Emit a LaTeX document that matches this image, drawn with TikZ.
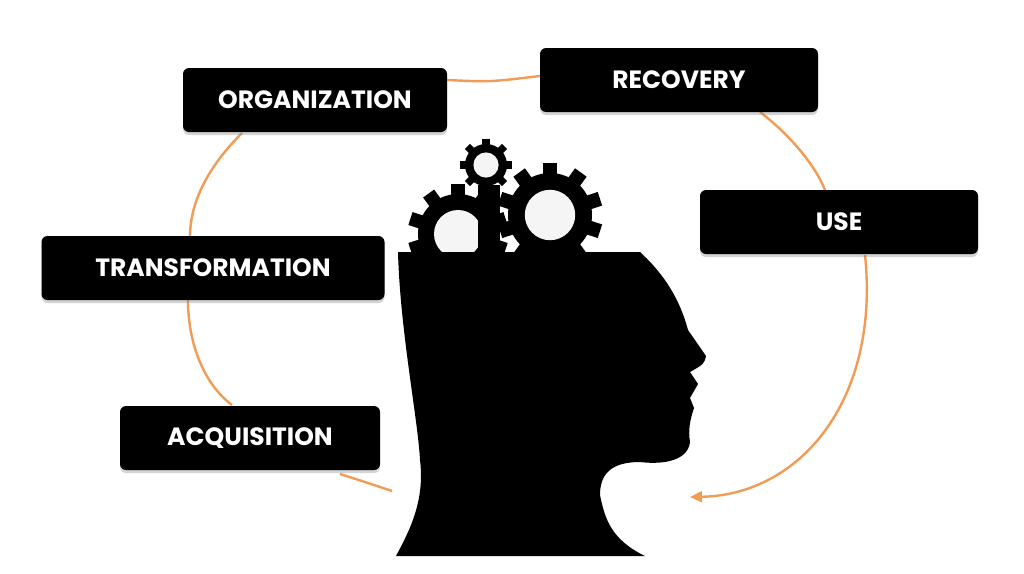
\documentclass[tikz,border=0pt]{standalone}
\usepackage{fontspec}
\setmainfont{Poppins}
\usetikzlibrary{shadows,arrows.meta}
\definecolor{linkorange}{HTML}{F29B55}
\tikzset{
  stage/.style={fill=black, rounded corners=6pt, text=white, font=\fontsize{25}{28}\selectfont\bfseries,
    minimum height=64, inner xsep=0pt,
    drop shadow={shadow xshift=0pt, shadow yshift=-3pt, opacity=0.35, fill=gray}},
  link/.style={draw=linkorange, line width=2.4pt},
}
\newcommand{\gearat}[4]{% centre x, y, radius, teeth
  \foreach \k in {1,...,#4}
    \fill[black, rotate around={360/#4*\k:(#1,#2)}] (#1-0.17*#3,#2) rectangle (#1+0.17*#3,#2-1.25*#3);
  \fill[black] (#1,#2) circle (#3);
  \fill[white!92!gray] (#1,#2) circle (0.6*#3);
}
\begin{document}
\begin{tikzpicture}[x=1pt,y=-1pt]
  \useasboundingbox (0,0) rectangle (1024,573);

  % cycle of links
  \coordinate (a1) at (447,80);  \coordinate (a2) at (540,76);
  \coordinate (b1) at (760,112); \coordinate (b2) at (825,190);
  \coordinate (c1) at (865,255); \coordinate (c2) at (690,497);
  \coordinate (d1) at (242,133); \coordinate (d2) at (190,237);
  \coordinate (e1) at (188,300); \coordinate (e2) at (232,405);
  \coordinate (f1) at (340,474); \coordinate (f2) at (392,491);
  \draw[link] (a1) .. controls (490,82) .. (a2);
  \draw[link] (b1) .. controls (790,135) and (815,165) .. (b2);
  \draw[link, -{Triangle[length=12pt,width=11pt]}] (c1) .. controls (880,400) and (800,495) .. (c2);
  \draw[link] (d1) .. controls (210,165) and (190,200) .. (d2);
  \draw[link] (e1) .. controls (188,345) and (205,385) .. (e2);
  \draw[link] (f1) .. controls (365,482) .. (f2);

  % gears
  \gearat{550}{215}{42}{10}
  \gearat{458}{234}{40}{10}
  \gearat{486}{165}{21}{8}
  \fill[black] (478,185) rectangle (500,250);

  % head
  \fill[black] (398,252) -- (640,252) .. controls (665,275) and (680,300) .. (688,330)
    -- (706,356) .. controls (704,364) .. (690,372) -- (698,384) -- (690,398) -- (694,408)
    .. controls (690,420) and (688,430) .. (690,442) .. controls (688,460) and (665,465) .. (640,462)
    .. controls (610,462) and (600,475) .. (600,495) .. controls (605,520) and (612,540) .. (645,556)
    -- (396,556) .. controls (410,530) and (425,500) .. (420,460)
    .. controls (418,420) and (400,330) .. (398,252) -- cycle;

  % stages
  \node[stage, minimum width=264] (organization) at (315,100) {ORGANIZATION};
  \node[stage, minimum width=278] (recovery) at (679,80) {RECOVERY};
  \node[stage, minimum width=278] (use) at (839,222) {USE};
  \node[stage, minimum width=343] (transformation) at (213,268) {TRANSFORMATION};
  \node[stage, minimum width=260] (acquisition) at (250,438) {ACQUISITION};
\end{tikzpicture}
\end{document}
